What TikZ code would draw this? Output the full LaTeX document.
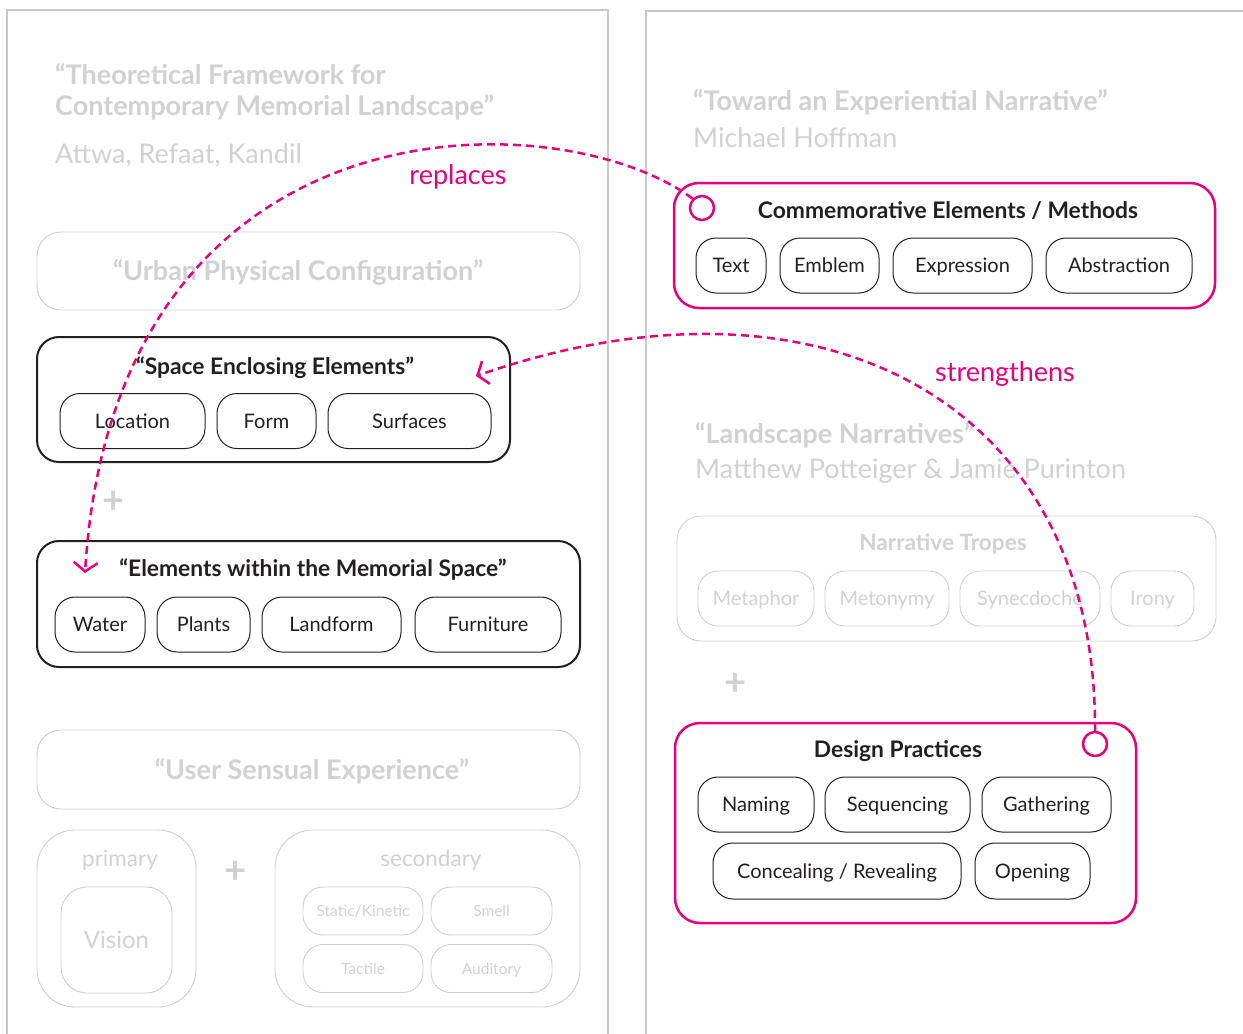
\documentclass[tikz,border=0pt]{standalone}
\usepackage{fontspec}
\setmainfont{Lato}
\usetikzlibrary{arrows.meta}
\definecolor{mag}{HTML}{E6007E}
\definecolor{lg}{HTML}{D0D1D3}
\definecolor{framec}{HTML}{C8C8C8}
\definecolor{ink}{HTML}{231F20}
\definecolor{gline}{HTML}{CFCFCF}
\tikzset{
  blackbox/.style={draw=ink, line width=2pt, rounded corners=22pt, inner sep=0pt},
  graybox/.style={draw=gline, line width=0.9pt, rounded corners=24pt, inner sep=0pt},
  magbox/.style={draw=mag, line width=2.5pt, rounded corners=25pt, inner sep=0pt},
  pill/.style={draw=ink, line width=1pt, rounded corners=20pt, inner sep=0pt, minimum height=55pt, text=ink, text height=14.4pt, text depth=0pt, font=\fontsize{20}{24}\selectfont},
  gpill/.style={draw=gline, line width=0.9pt, rounded corners=20pt, inner sep=0pt, minimum height=55pt, text=lg, text height=14.4pt, text depth=0pt, font=\fontsize{20}{24}\selectfont},
  spill/.style={draw=gline, line width=0.9pt, rounded corners=20pt, inner sep=0pt, minimum height=48pt, minimum width=120pt, text=lg, text height=11.2pt, text depth=0pt, font=\fontsize{15.5}{18}\selectfont},
  btitle/.style={text=ink, inner sep=0pt, text height=16.4pt, text depth=0pt, font=\bfseries\fontsize{22.8}{26}\selectfont},
  gtitle/.style={text=lg, inner sep=0pt, font=\bfseries\fontsize{27}{31}\selectfont},
  gtext/.style={text=lg, inner sep=0pt, font=\fontsize{27}{31}\selectfont},
  plussign/.style={text=lg, inner sep=0pt, font=\bfseries\fontsize{38}{42}\selectfont},
  maglabel/.style={text=mag, inner sep=0pt, text height=19.4pt, text depth=0pt, font=\fontsize{27}{31}\selectfont},
  magring/.style={draw=mag, line width=2.5pt, circle, minimum size=24pt, inner sep=0pt},
  arr/.style={draw=mag, line width=2.5pt, dash pattern=on 8pt off 5pt, -{Straight Barb[length=9pt,width=24pt]}}
}
\begin{document}
\begin{tikzpicture}[x=1pt,y=-1pt]
\useasboundingbox (0,0) rectangle (1243,1034);
\clip (0,0) rectangle (1243,1034);
\fill[white] (0,0) rectangle (1243,1034);

% panels
\draw[framec, line width=2.5pt] (7,1080) -- (7,10) -- (608,10) -- (608,1080);
\draw[framec, line width=2.5pt] (646,1080) -- (646,11) -- (1300,11);

% left panel texts
\node[gtitle, anchor=base west] (lt1) at (55,84) {“Theoretical Framework for};
\node[gtitle, anchor=base west] (lt2) at (55,115) {Contemporary Memorial Landscape”};
\node[gtext, anchor=base west] (lt3) at (55,163) {Attwa, Refaat, Kandil};

\node[graybox, minimum width=543pt, minimum height=78pt] (urban) at (308.5,271) {};
\node[gtitle, text height=19.4pt, text depth=0pt] (urbant) at (298,271) {“Urban Physical Configuration”};

% Space enclosing elements
\node[blackbox, minimum width=473pt, minimum height=125pt] (see) at (273.5,399.5) {};
\node[btitle] (seet) at (275,366) {“Space Enclosing Elements”};
\node[pill, minimum width=145pt] (loc) at (132.5,421) {Location};
\node[pill, minimum width=99pt] (form) at (266.5,421) {Form};
\node[pill, minimum width=163pt] (surf) at (409.5,421) {Surfaces};

\node[plussign] (plus1) at (114,502) {+};

% Elements within memorial space
\node[blackbox, minimum width=543pt, minimum height=126pt] (ew) at (308.5,604) {};
\node[btitle] (ewt) at (313,568) {“Elements within the Memorial Space”};
\node[pill, minimum width=90pt] (water) at (100,624.5) {Water};
\node[pill, minimum width=93pt] (plants) at (203.5,624.5) {Plants};
\node[pill, minimum width=139pt] (landf) at (331.5,624.5) {Landform};
\node[pill, minimum width=146pt] (furn) at (488,624.5) {Furniture};

% User sensual experience
\node[graybox, minimum width=543pt, minimum height=79pt] (use) at (308.5,769.5) {};
\node[gtitle, text height=19.4pt, text depth=0pt] (uset) at (312,770) {“User Sensual Experience”};
\node[graybox, rounded corners=38pt, minimum width=159pt, minimum height=177pt] (prim) at (116.5,918.5) {};
\node[text=lg, inner sep=0pt, text height=16.2pt, text depth=0pt, font=\fontsize{22.5}{26}\selectfont] (primt) at (120,858) {primary};
\node[graybox, rounded corners=26pt, minimum width=111pt, minimum height=106pt, text=lg, text height=17.3pt, text depth=0pt, font=\fontsize{24}{28}\selectfont] (vision) at (116.5,940) {Vision};
\node[plussign] (plus2) at (236,872) {+};
\node[graybox, rounded corners=38pt, minimum width=305pt, minimum height=177pt] (sec) at (427.5,918.5) {};
\node[text=lg, inner sep=0pt, text height=16.2pt, text depth=0pt, font=\fontsize{22.5}{26}\selectfont] (sect) at (431,858) {secondary};
\node[spill] (stat) at (363,911) {Static/Kinetic};
\node[spill, minimum width=121pt] (smell) at (491.5,911) {Smell};
\node[spill] (tact) at (363,968.5) {Tactile};
\node[spill, minimum width=121pt] (aud) at (491.5,968.5) {Auditory};

% right panel texts
\node[gtitle, anchor=base west] (rt1) at (693,110) {“Toward an Experiential Narrative”};
\node[gtext, anchor=base west] (rt2) at (693,147) {Michael Hoffman};

% Commemorative elements
\node[magbox, minimum width=541pt, minimum height=125pt] (com) at (944.5,245.5) {};
\node[btitle] (comt) at (948,210) {Commemorative Elements / Methods};
\node[magring] (c1) at (702,208) {};
\node[pill, minimum width=70pt] (text) at (731,265.5) {Text};
\node[pill, minimum width=99pt] (emb) at (829.5,265.5) {Emblem};
\node[pill, minimum width=139pt] (expr) at (962.5,265.5) {Expression};
\node[pill, minimum width=146pt] (abst) at (1119,265.5) {Abstraction};

% Landscape narratives
\node[gtitle, anchor=base west] (rt3) at (695,443) {“Landscape Narratives”};
\node[gtext, anchor=base west] (rt4) at (695,478) {Matthew Potteiger \& Jamie Purinton};
\node[graybox, minimum width=539pt, minimum height=125pt] (tropes) at (946.5,578.5) {};
\node[text=lg, inner sep=0pt, text height=16.3pt, text depth=0pt, font=\bfseries\fontsize{22.6}{26}\selectfont] (tropest) at (943,542) {Narrative Tropes};
\node[gpill, minimum width=116pt] (meta) at (756,598.5) {Metaphor};
\node[gpill, minimum width=124pt] (meto) at (887,598.5) {Metonymy};
\node[gpill, minimum width=140pt] (syne) at (1030,598.5) {Synecdoche};
\node[gpill, minimum width=83pt] (iron) at (1152.5,598.5) {Irony};
\node[plussign] (plus3) at (736,684) {+};

% Design practices
\node[magbox, minimum width=461pt, minimum height=200pt] (dp) at (905.5,823) {};
\node[btitle] (dpt) at (898,749) {Design Practices};
\node[magring] (c2) at (1095,744) {};
\node[pill, minimum width=116pt] (nam) at (756,804.5) {Naming};
\node[pill, minimum width=145pt] (seq) at (897.5,804.5) {Sequencing};
\node[pill, minimum width=129pt] (gath) at (1046.5,804.5) {Gathering};
\node[pill, minimum width=248pt, minimum height=56pt] (conc) at (837,871) {Concealing / Revealing};
\node[pill, minimum width=115pt, minimum height=56pt] (open) at (1032.5,871) {Opening};

% connectors
\coordinate (tipA) at (85,573);
\coordinate (tipB) at (476,376);
\draw[arr] (c1.135) .. controls (560,100) and (115,90) .. (tipA);
\draw[arr] (c2.north) .. controls (1097,405) and (825,255) .. (tipB);
\node[maglabel] (rep) at (458,175) {replaces};
\node[maglabel] (str) at (1005,372) {strengthens};
\end{tikzpicture}
\end{document}
